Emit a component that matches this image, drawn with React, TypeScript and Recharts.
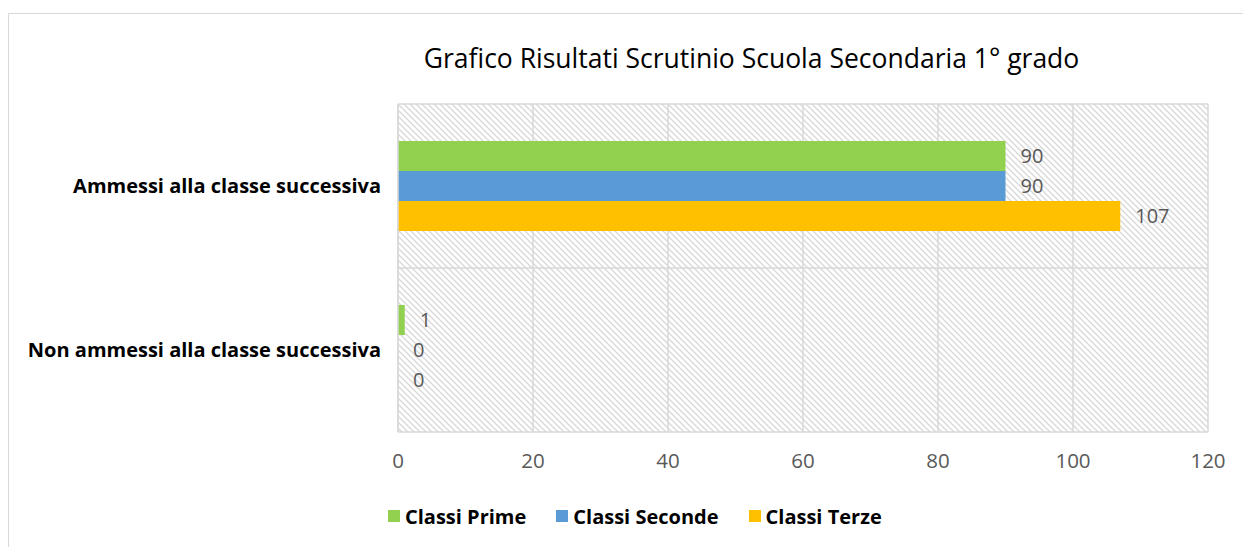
import React from "react";
import { BarChart, Bar, XAxis, YAxis, CartesianGrid, Legend, LabelList } from "recharts";

const categories = ["Ammessi alla classe successiva", "Non ammessi alla classe successiva"];
const classiPrime = [90, 1];
const classiSeconde = [90, 0];
const classiTerze = [107, 0];
const xTicks = [0, 20, 40, 60, 80, 100, 120];

const series = [
  { key: "prime", name: "Classi Prime", color: "#92D050" },
  { key: "seconde", name: "Classi Seconde", color: "#5B9BD5" },
  { key: "terze", name: "Classi Terze", color: "#FFC000" },
];

const data = categories.map((name, i) => ({
  name,
  prime: classiPrime[i],
  seconde: classiSeconde[i],
  terze: classiTerze[i],
}));

const FONT = "'Open Sans', sans-serif";

function LegendContent() {
  return (
    <div style={{ display: "flex", height: 24, alignItems: "center", fontFamily: FONT }}>
      {series.map((s) => (
        <div key={s.key} style={{ display: "flex", alignItems: "center", marginRight: 30 }}>
          <div style={{ width: 12, height: 12, background: s.color, marginRight: 5 }} />
          <span style={{ fontSize: 20, fontWeight: 700, color: "#000" }}>{s.name}</span>
        </div>
      ))}
    </div>
  );
}

export default function App() {
  return (
    <div style={{ position: "absolute", left: 0, top: 0, width: 1243, height: 547, overflow: "hidden", background: "#fff" }}>
      <div style={{ position: "absolute", left: 8, top: 13, width: 1400, height: 700, border: "1.5px solid #d9d9d9" }} />
      <div
        style={{
          position: "absolute",
          top: 40,
          left: 0,
          width: 1503,
          textAlign: "center",
          fontFamily: FONT,
          fontSize: 26.5,
          color: "#000",
        }}
      >
        Grafico Risultati Scrutinio Scuola Secondaria 1° grado
      </div>
      <div style={{ position: "absolute", left: 0, top: 0 }}>
        <BarChart
          width={1243}
          height={547}
          data={data}
          layout="vertical"
          margin={{ top: 104, right: 35, bottom: 31, left: 0 }}
          barGap={0}
        >
          <defs>
            <pattern id="hatch" width="6" height="6" patternUnits="userSpaceOnUse">
              <path d="M0,0 L6,6 M-1,5 L1,7 M5,-1 L7,1" stroke="#d9d9d9" strokeWidth={1.4} />
            </pattern>
          </defs>
          <CartesianGrid
            stroke="#d9d9d9"
            strokeWidth={1.5}
            fill="url(#hatch)"
            fillOpacity={1}
            horizontalCoordinatesGenerator={({ offset }: any) => [
              offset.top,
              offset.top + offset.height / 2,
              offset.top + offset.height,
            ]}
          />
          <XAxis
            type="number"
            domain={[0, 120]}
            ticks={xTicks}
            axisLine={false}
            tickLine={false}
            tickSize={0}
            tickMargin={21}
            height={60}
            tick={{ fill: "#595959", fontSize: 20.5, fontFamily: FONT }}
          />
          <YAxis
            type="category"
            dataKey="name"
            width={398}
            axisLine={{ stroke: "#d9d9d9", strokeWidth: 1.5 }}
            tickLine={false}
            tickSize={0}
            tickMargin={17}
            tick={{ fill: "#000", fontSize: 20, fontWeight: 700, fontFamily: FONT }}
          />
          {series.map((s) => (
            <Bar
              key={s.key}
              dataKey={s.key}
              name={s.name}
              fill={s.color}
              barSize={30}
              minPointSize={0.01}
              isAnimationActive={false}
            >
              <LabelList
                dataKey={s.key}
                position="right"
                offset={15}
                fill="#595959"
                fontSize={20}
                fontFamily={FONT}
              />
            </Bar>
          ))}
          <Legend content={<LegendContent />} wrapperStyle={{ top: 504, left: 388, width: 800 }} />
        </BarChart>
      </div>
    </div>
  );
}
